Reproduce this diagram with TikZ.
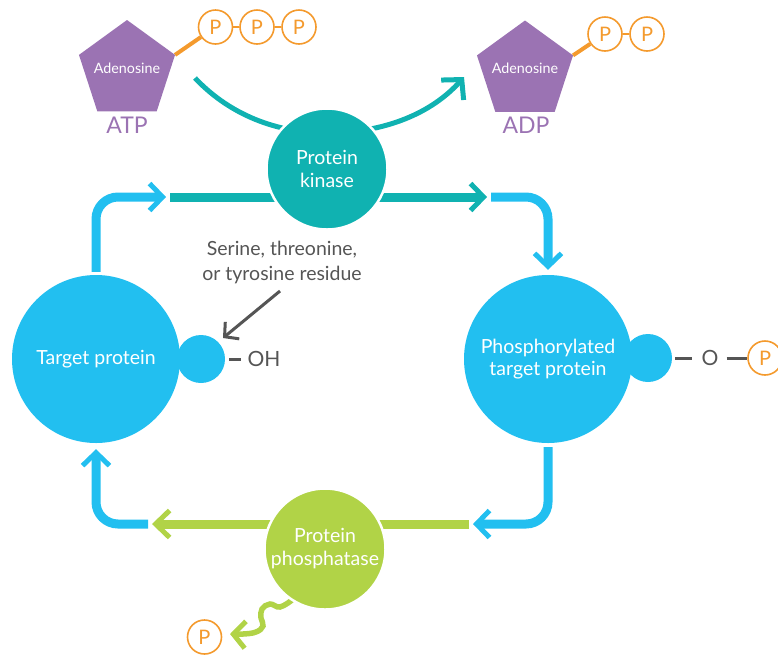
\documentclass[tikz,border=0pt]{standalone}
\usepackage{fontspec}
\setmainfont{Lato}
\usetikzlibrary{arrows.meta,shapes.geometric}
\pgfdeclarelayer{bg}
\pgfsetlayers{bg,main}
\definecolor{cpurple}{HTML}{9B73B3}
\definecolor{corange}{HTML}{F49A2D}
\definecolor{cteal}{HTML}{10B2B1}
\definecolor{cblue}{HTML}{22BFF0}
\definecolor{cgreen}{HTML}{B1D347}
\definecolor{cgray}{HTML}{555555}
\begin{document}
\begin{tikzpicture}[x=1pt,y=-1pt,
  pent/.style={regular polygon, regular polygon sides=5, fill=cpurple, minimum size=101pt,
    inner sep=0pt, outer sep=0pt},
  pentlabel/.style={text=white, inner sep=0pt, font=\fontsize{14.3}{16}\selectfont},
  mollabel/.style={text=cpurple, font=\fontsize{23}{23}\selectfont, inner sep=0pt},
  pcirc/.style={circle, draw=corange, line width=1.6pt, fill=white, minimum size=34pt,
    inner sep=0pt, text=corange, font=\fontsize{20}{20}\selectfont},
  olink/.style={draw=corange, line width=4pt},
  olinksm/.style={draw=corange, line width=2.5pt},
  enzyme/.style={circle, draw=white, line width=2.5pt, minimum size=121pt, inner sep=0pt,
    text=white, align=center, font=\fontsize{19.5}{23}\selectfont},
  prot/.style={circle, fill=cblue, minimum size=168pt, inner sep=0pt, text=white,
    align=center, font=\fontsize{19.5}{22}\selectfont},
  site/.style={circle, fill=cblue, minimum size=48pt, inner sep=0pt},
  graytext/.style={text=cgray, inner sep=0pt, align=center},
  graydash/.style={draw=cgray, line width=3pt},
  bluearr/.style={draw=cblue, line width=9pt, rounded corners=22pt,
    -{Straight Barb[length=13pt, width=27pt, line width=5pt]}},
  tealarr/.style={draw=cteal, line width=9pt,
    -{Straight Barb[length=13pt, width=27pt, line width=5pt]}},
  greenarr/.style={draw=cgreen, line width=9pt,
    -{Straight Barb[length=14pt, width=27pt, line width=5pt]}},
  tealcurve/.style={draw=cteal, line width=5pt,
    -{Straight Barb[length=14pt, width=30pt, line width=5pt]}},
  greensq/.style={draw=cgreen, line width=5.5pt,
    -{Straight Barb[length=12pt, width=27pt, line width=5pt]}},
  grayarr/.style={draw=cgray, line width=3pt,
    -{Straight Barb[length=10pt, width=22pt, line width=3pt]}}
]
\useasboundingbox (0,0) rectangle (778,657);

% ATP / ADP
\node[pent] (atp) at (127,70.5) {};
\node[pentlabel] (atpt) at (127,68) {Adenosine};
\node[mollabel] (atpl) at (127,125) {ATP};
\node[pcirc] (p1) at (215.5,27) {P};
\node[pcirc] (p2) at (257,27) {P};
\node[pcirc] (p3) at (299,27) {P};
\node[pent] (adp) at (525,71) {};
\node[pentlabel] (adpt) at (525,68) {Adenosine};
\node[mollabel] (adpl) at (526,125) {ADP};
\node[pcirc] (p4) at (605,34) {P};
\node[pcirc] (p5) at (647,34) {P};

% enzymes
\node[enzyme, fill=cteal] (kinase) at (327,169) {Protein\\kinase};
\node[enzyme, fill=cgreen] (phosph) at (325,549) {Protein\\phosphatase};

% proteins
\node[site] (s1) at (201,359) {};
\node[prot] (target) at (96,359) {Target protein};
\node[site] (s2) at (648,358) {};
\node[prot] (phos) at (548,359) {Phosphorylated\\target protein};

% labels
\node[graytext, font=\fontsize{19.5}{25}\selectfont] (residue) at (282,262) {Serine, threonine,\\or tyrosine residue};
\node[graytext, font=\fontsize{21}{21}\selectfont] (oh) at (264,359) {OH};
\node[graytext, font=\fontsize{21}{21}\selectfont] (oo) at (710,358) {O};
\node[pcirc] (p6) at (765,358) {P};
\node[pcirc] (p7) at (204.5,637) {P};

% coordinates
\coordinate (a1) at (166,197);
\coordinate (t1) at (170,197);
\coordinate (t2) at (487,197);
\coordinate (b2) at (491,197);
\coordinate (b4) at (473,524);
\coordinate (g1) at (469,524);
\coordinate (g2) at (152,524);
\coordinate (b5) at (148,524);
\coordinate (c1) at (195,78);
\coordinate (c2) at (464,77);
\coordinate (r1) at (280,291);
\coordinate (r2) at (223,338);

\begin{pgfonlayer}{bg}
  \draw[olink] (atp.18) -- (p1);
  \draw[olinksm] (p1) -- (p2);
  \draw[olinksm] (p2) -- (p3);
  \draw[olink] (adp.18) -- (p4);
  \draw[olinksm] (p4) -- (p5);

  \draw[tealcurve] (c1) .. controls (225,110) and (270,133) .. (327,133)
                        .. controls (385,133) and (432,113) .. (c2);

  \draw[bluearr] ([yshift=3pt]target.north) |- (a1);
  \draw[tealarr] (t1) -- (t2);
  \draw[bluearr] (b2) -| ([yshift=5pt]phos.north);
  \draw[bluearr] ([yshift=-4pt]phos.south) |- (b4);
  \draw[greenarr] (g1) -- (g2);
  \draw[bluearr] (b5) -| ([yshift=-6pt]target.south);

  \draw[greensq] plot[smooth, tension=0.7] coordinates
    {(292,600) (280,607) (270,604) (262,609) (261,618) (263,626) (256,632) (243,634) (230,634)};

  \draw[grayarr] (r1) -- (r2);
  \draw[graydash] ([xshift=4pt]s1.east) -- ([xshift=-6pt]oh.west);
  \draw[graydash] ([xshift=3pt]s2.east) -- ([xshift=-9pt]oo.west);
  \draw[graydash] ([xshift=8pt]oo.east) -- (p6.west);
\end{pgfonlayer}
\end{tikzpicture}
\end{document}
